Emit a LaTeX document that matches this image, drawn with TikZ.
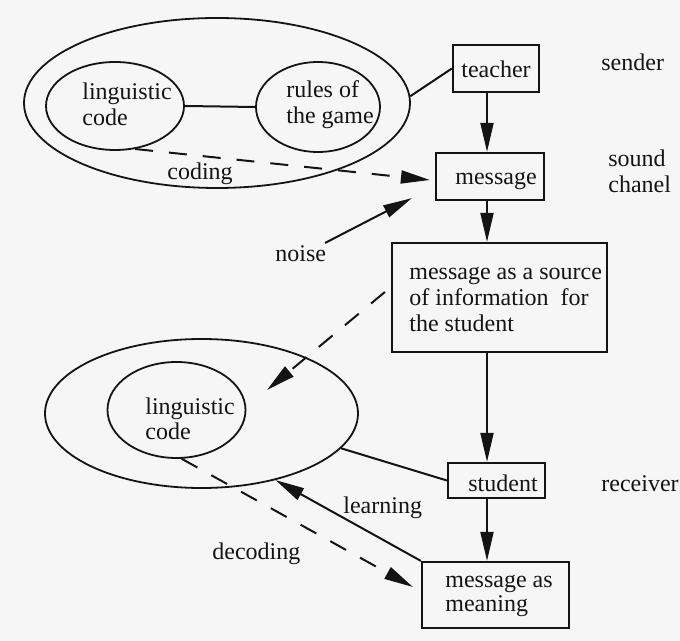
\documentclass[tikz,border=0pt]{standalone}
\usepackage{fontspec}
\setmainfont{Liberation Serif}
\usetikzlibrary{shapes.geometric,arrows.meta,calc}
\definecolor{paper}{RGB}{246,246,246}
\definecolor{ink}{RGB}{20,20,20}
\begin{document}
\begin{tikzpicture}[x=0.5pt,y=-0.5pt,
  every node/.style={font=\fontsize{12}{13}\selectfont, text=ink},
  line/.style={draw=ink, line width=1pt},
  ring/.style={draw=ink, ellipse, line width=0.9pt, inner sep=0pt},
  box/.style={draw=ink, rectangle, line width=1.1pt, inner sep=0pt},
  txt/.style={inner sep=0pt, anchor=base west},
  arr/.style={line, -{Triangle[length=14.5pt,width=6.5pt]}},
  darr/.style={arr, dash pattern=on 9pt off 8pt},
]
\fill[paper] (0,0) rectangle (680,641);
\useasboundingbox (0,0) rectangle (680,641);

% sender side: code and rules
\node[ring, minimum width=193pt, minimum height=85pt] (outer1) at (217,103) {};
\node[ring, minimum width=69pt, minimum height=44pt] (lc1) at (115,106) {};
\node[ring, minimum width=62pt, minimum height=45pt] (rules) at (318,107) {};
\node[txt] (lc1a) at (82,100) {linguistic};
\node[txt] (lc1b) at (82,126) {code};
\node[txt] (rulesa) at (286,98) {rules of};
\node[txt] (rulesb) at (286,124) {the game};

% main chain of boxes
\node[box, minimum width=43pt, minimum height=23.5pt] (teacher) at (496,68.5) {};
\node[txt] (teachert) at (461,78) {teacher};
\node[box, minimum width=54pt, minimum height=23.5pt] (message) at (490,176.5) {};
\node[txt] (messaget) at (455,185) {message};
\node[box, minimum width=107.5pt, minimum height=54.5pt] (bigbox) at (499.5,297.5) {};
\node[txt] (bigt1) at (409,280) {message as a source};
\node[txt] (bigt2) at (409,306) {of information\ \ for};
\node[txt] (bigt3) at (409,332) {the student};
\node[box, minimum width=48.5pt, minimum height=17.5pt] (student) at (496.5,480.5) {};
\node[txt] (studentt) at (468,491) {student};
\node[box, minimum width=73.5pt, minimum height=33pt] (meaning) at (495.5,595) {};
\node[txt] (meaningt1) at (445,587) {message as};
\node[txt] (meaningt2) at (445,611) {meaning};

% receiver side: code
\node[ring, minimum width=156.5pt, minimum height=74.5pt] (outer2) at (201.5,413.5) {};
\node[ring, minimum width=69pt, minimum height=48pt] (lc2) at (176.5,410) {};
\node[txt] (lc2a) at (145,415) {linguistic};
\node[txt] (lc2b) at (145,440) {code};

% role labels
\node[txt] (sender) at (601,71) {sender};
\node[txt] (sound) at (608,167) {sound};
\node[txt] (chanel) at (608,193) {chanel};
\node[txt] (receiver) at (601,491) {receiver};

% connector labels
\node[txt] (coding) at (167,180) {coding};
\node[txt] (noise) at (275,262) {noise};
\node[txt] (learning) at (343,513) {learning};
\node[txt] (decoding) at (212,559) {decoding};

% free ends
\coordinate (spine) at (487,0);
\coordinate (noisetail) at (325,243);
\coordinate (intake) at (267,390);

% connectors
\draw[line] (outer1.2) -- (teacher.west);
\draw[line] (lc1.east) -- (rules.west);
\draw[arr] (teacher.south -| spine) -- (message.north -| spine);
\draw[arr] (message.south -| spine) -- (bigbox.north -| spine);
\draw[arr] (bigbox.south -| spine) -- (student.north -| spine);
\draw[arr] (student.south -| spine) -- (meaning.north -| spine);
\draw[darr] (lc1.-65) -- ([xshift=-2.5pt,yshift=-1.75pt]message.west);
\draw[arr] (noisetail) -- ([xshift=-11.5pt,yshift=1.5pt]message.south west);
\draw[darr] ([xshift=-3pt,yshift=2.75pt]bigbox.west) -- (intake);
\draw[line] (outer2.-14) -- (student.west);
\draw[arr] (meaning.north west) -- (outer2.-42);
\draw[darr] (lc2.-84) -- ([xshift=-4pt,yshift=4pt]meaning.west);
\end{tikzpicture}
\end{document}
